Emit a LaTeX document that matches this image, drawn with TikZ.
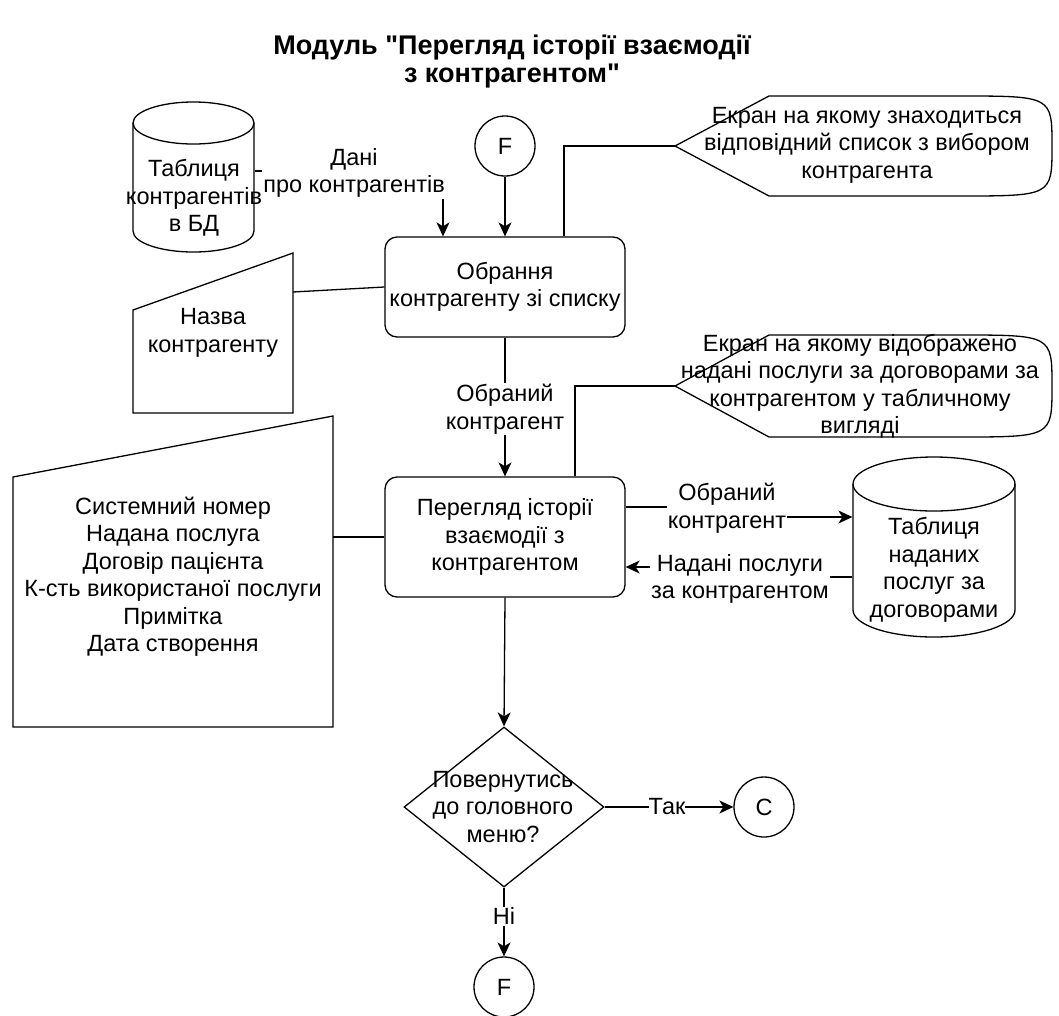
\documentclass[tikz,border=0pt]{standalone}
\usepackage{fontspec}
\setmainfont{Liberation Sans}
\newfontfamily\titlefont{Liberation Sans}[Ligatures=TeXOff]
\usetikzlibrary{arrows.meta,shapes.geometric}
\begin{document}
\begin{tikzpicture}[x=1pt,y=-1pt,line width=1.3pt,
  txt/.style={font=\fontsize{23.5}{27.5}\selectfont,align=center,inner sep=1pt},
  onwire/.style={txt,fill=white},
  procbox/.style={draw,rounded corners=12pt,minimum width=240pt,align=center,inner sep=0pt,
    font=\fontsize{23.5}{27.5}\selectfont},
  connector/.style={circle,draw,minimum size=60pt,inner sep=0pt,font=\fontsize{23.5}{27}\selectfont},
  arr/.style={-{Stealth[length=14pt,width=13pt,inset=4pt]}},
]
\useasboundingbox (0,0) rectangle (1059,1015);

% title
\node[font=\titlefont\bfseries\fontsize{27}{28}\selectfont,align=center] (title) at (512,62)
  {Модуль "Перегляд історії взаємодії\\з контрагентом"};

% process boxes
\node[procbox,minimum height=100pt] (sel) at (505,287) {Обрання\\контрагенту зі списку};
\node[procbox,minimum height=120pt] (view) at (505,537) {Перегляд історії\\взаємодії з\\контрагентом};

% connectors
\node[connector] (F1) at (505,146) {F};
\node[connector] (C) at (764,807) {C};
\node[connector] (F2) at (504,987) {F};

% decision
\node[diamond,draw,minimum width=200pt,minimum height=160pt,inner sep=0pt] (dec) at (504,807) {};
\node[txt] (dectxt) at (503,807) {Повернутись\\до головного\\меню?};

% database table of counterparties
\node[minimum width=121pt,minimum height=150pt,inner sep=0pt] (tblA) at (193.5,177) {};
\draw (193.5,123) ellipse [x radius=60.5pt,y radius=21pt];
\draw (133,123) -- (133,231) arc[start angle=180,end angle=360,x radius=60.5pt,y radius=21pt] -- (254,123);
\node[txt] (tblAtxt) at (194,198) {Таблиця\\контрагентів\\в БД};

% database table of services under contracts
\node[minimum width=162pt,minimum height=180pt,inner sep=0pt] (tblB) at (934,547) {};
\draw (934,484) ellipse [x radius=81pt,y radius=27pt];
\draw (853,484) -- (853,610) arc[start angle=180,end angle=360,x radius=81pt,y radius=27pt] -- (1015,484);
\node[txt] (tblBtxt) at (934,570) {Таблиця\\наданих\\послуг за\\договорами};

% manual inputs
\draw (133,310) -- (293,253) -- (293,413) -- (133,413) -- cycle;
\node[txt] (nameTxt) at (213,333) {Назва\\контрагенту};
\draw (13,477) -- (333,416) -- (333,727) -- (13,727) -- cycle;
\node[txt] (fieldsTxt) at (173,576.5) {Системний номер\\Надана послуга\\Договір пацієнта\\К-сть використаної послуги\\Примітка\\Дата створення};

% displays
\draw (675,146) -- (769,96) -- (958,96) .. controls (1052,96) .. (1052,146)
  .. controls (1052,196) .. (958,196) -- (769,196) -- cycle;
\node[txt] (scrAtxt) at (867,145) {Екран на якому знаходиться\\відповідний список з вибором\\контрагента};
\draw (675,386) -- (769,335) -- (958,335) .. controls (1052,335) .. (1052,386)
  .. controls (1052,437) .. (958,437) -- (769,437) -- cycle;
\node[txt] (scrBtxt) at (860,386) {Екран на якому відображено\\надані послуги за договорами за\\контрагентом у табличному\\вигляді};

% anchor points of the wires
\coordinate (dA) at (443,171);
\coordinate (s1) at (564,146);
\coordinate (scrA) at (675,146);
\coordinate (s2) at (575,386);
\coordinate (scrB) at (675,386);
\coordinate (nmA) at (293,292);
\coordinate (nmB) at (333,537);
\coordinate (k1) at (727,507);
\coordinate (k2) at (727,517);
\coordinate (k3) at (740,577);
\coordinate (k4) at (740,567);

% wires
\draw[arr] (F1.south) -- (sel.north);
\draw[arr] (tblA.east |- dA) -- (dA) -- (dA |- sel.north);
\node[onwire] (dAlbl) at (354,173) {Дані\\про контрагентів};
\draw (sel.north -| s1) -- (s1) -- (scrA);
\draw (nmA) -- (sel.west);
\draw[arr] (sel.south) -- (view.north);
\node[onwire] (selOut) at (505,409) {Обраний\\контрагент};
\draw (view.north -| s2) -- (s2) -- (scrB);
\draw (nmB) -- (view.west);
\draw[arr] (view.east |- k1) -- (k1) -- (k2) -- (k2 -| tblB.west);
\node[onwire] (reqLbl) at (727,508) {Обраний\\контрагент};
\draw[arr] (tblB.west |- k3) -- (k3) -- (k4) -- (k4 -| view.east);
\node[onwire] (respLbl) at (740,579) {Надані послуги\\за контрагентом};
\draw[arr] (view.south) -- (dec.north);
\draw[arr] (dec.east) -- (C.west);
\node[onwire,inner sep=0pt] (yesLbl) at (667,807) {Так};
\draw[arr] (dec.south) -- (F2.north);
\node[onwire] (noLbl) at (504,916) {Ні};
\end{tikzpicture}
\end{document}
